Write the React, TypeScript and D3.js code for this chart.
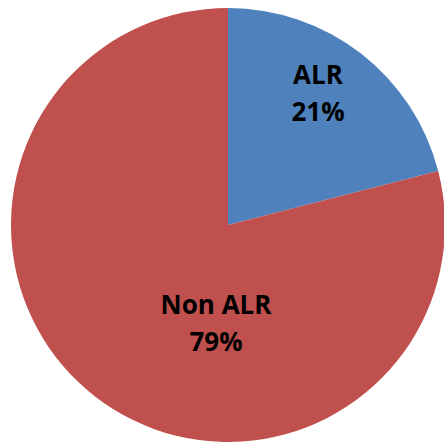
import React from "react";
import * as d3 from "d3";

const categories = ["ALR", "Non ALR"];
const values = [21, 79];
const colors = ["#4F81BD", "#C0504D"];
const percentLabels = ["21%", "79%"];
const labelOffsets: [number, number][] = [
  [90, -135],
  [-12, 95],
];

const W = 444;
const H = 446;
const CX = 228;
const CY = 225;
const R = 217;

export default function App() {
  const pie = d3.pie<number>().sort(null).value((d) => d);
  const arcs = pie(values);
  const arc = d3.arc<d3.PieArcDatum<number>>().innerRadius(0).outerRadius(R);
  return (
    <svg
      width={W}
      height={H}
      style={{ position: "absolute", left: 0, top: 0, background: "#fff" }}
    >
      <g transform={`translate(${CX},${CY})`}>
        {arcs.map((a, i) => (
          <path key={i} d={arc(a) || ""} fill={colors[i]} />
        ))}
        {arcs.map((a, i) => {
          const [x, y] = labelOffsets[i];
          return (
            <text
              key={"t" + i}
              x={x}
              y={y}
              textAnchor="middle"
              fontFamily="'Open Sans', sans-serif"
              fontWeight="bold"
              fontSize={26}
              fill="#000"
            >
              <tspan x={x} dy="-0.25em">{categories[i]}</tspan>
              <tspan x={x} dy="1.45em">{percentLabels[i]}</tspan>
            </text>
          );
        })}
      </g>
    </svg>
  );
}
